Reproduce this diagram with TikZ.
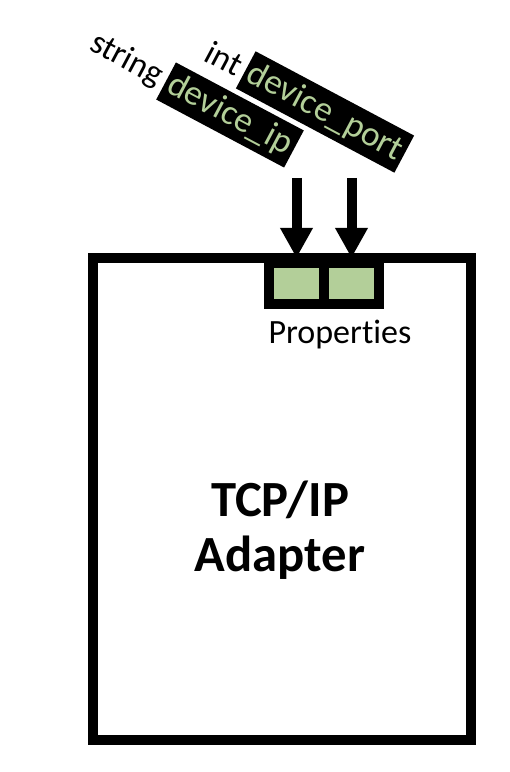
\documentclass[tikz,border=0pt]{standalone}
\usepackage{fontspec}
\setmainfont{Carlito}[RawFeature={-liga;-clig;-dlig;-calt}]
\usetikzlibrary{arrows.meta,positioning}
\definecolor{tpgreen}{RGB}{179,207,153}

\begin{document}
\begin{tikzpicture}[
  x=0.75pt, y=0.75pt,
  frame/.style={draw=black, line width=7.5pt, minimum width=283.5pt, minimum height=361.5pt},
  slot/.style={draw=black, fill=tpgreen, line width=7.5pt, minimum width=41.25pt, minimum height=30.75pt, inner sep=0pt},
  tag/.style={fill=black, text=tpgreen, rotate=-28, font=\fontsize{26.5}{30}\selectfont,
    minimum height=31.5pt, inner xsep=3pt, inner ysep=0pt},
  kind/.style={rotate=-28, font=\fontsize{25.5}{30}\selectfont, inner ysep=1pt, inner xsep=4pt},
  arr/.style={-{Triangle[length=22.5pt, width=23pt]}, line width=7.5pt}
]
\useasboundingbox (0,0) rectangle (510,772);

\node[frame] (adapter) at (282,273) {};
\node[font=\bfseries\fontsize{38}{41}\selectfont, align=center] (name) at (280,242) {TCP/IP\\Adapter};

\node[slot] (pip) at (296.5,488.5) {};
\node[slot] (pport) at (351.5,488.5) {};
\node[font=\fontsize{25.5}{30}\selectfont] (plabel) at (340,437) {Propert\kern0pt ies};

\coordinate (aip) at (296.5,594);
\coordinate (aport) at (351.5,594);
\draw[arr] (aip) -- (pip.north);
\draw[arr] (aport) -- (pport.north);

\node[tag] (dip) at (230,657) {device\_ip};
\node[tag] (dport) at (325,660) {device\_port};
\node[kind, anchor=east] (tstr) at (dip.west) {string};
\node[kind, anchor=east] (tint) at (dport.west) {int};
\end{tikzpicture}
\end{document}
